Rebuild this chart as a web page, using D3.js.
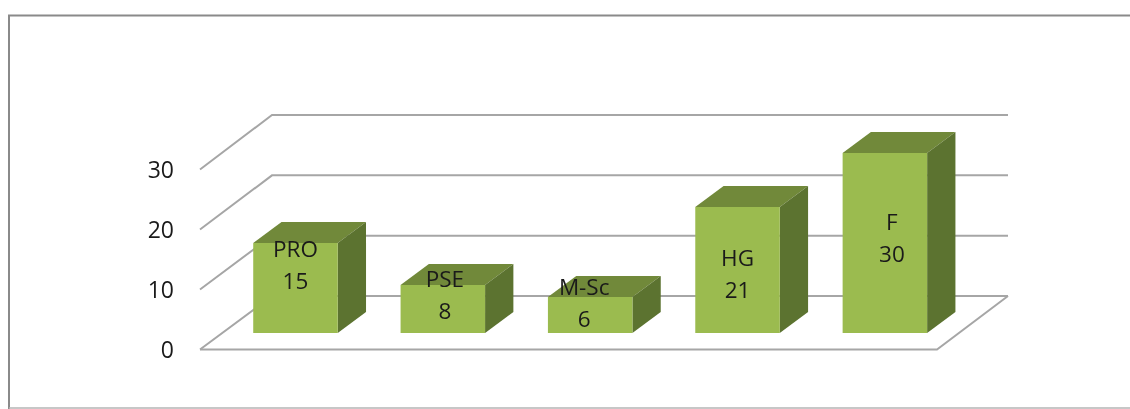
<!DOCTYPE html>
<html>
<head>
<meta charset="utf-8">
<script src="https://cdn.jsdelivr.net/npm/d3@7"></script>
<style>
	html, body { margin: 0; padding: 0; background: #fff; }
	svg { display: block; filter: blur(0.4px); }
	text { font-family: "Open Sans", sans-serif; fill: #1a1a1a; }
</style>
</head>
<body>
<svg id="viz-svg" width="1130" height="409"></svg>
<script>
const categories = ['PRO', 'PSE', 'M-Sc', 'HG', 'F'];
const values = [15, 8, 6, 21, 30];
const tickValues = [0, 10, 20, 30];

// labels were dragged around by hand in the original, so shift each one from its bar
const labelDx = [0, 2, -6, 0, 7];
const labelDy = [14, 2, -2, 59, 77];

const svg = d3.select("#viz-svg");

const depthX = 28.3;
const depthY = -21;
const lineGap = 32;

const frontColor = "#9bbb4f";
const topColor = "#71893a";
const sideColor = "#5c7330";
const gridColor = "#a6a6a6";

const scaleX = d3.scaleBand()
	.domain(categories)
	.range([221.8, 958.55])
	.paddingInner(0.4265)
	.paddingOuter(0.21325);

const scaleBar = d3.scaleLinear().domain([0, 30]).range([333, 153]);
const scaleFront = d3.scaleLinear().domain([0, 30]).range([349.5, 169.5]);
const scaleBack = d3.scaleLinear().domain([0, 30]).range([296, 115]);

const floorLeft = 200, floorRight = 937, wallLeft = 272, wallRight = 1008;

// outer frame, only three sides show in the source
svg.append("path")
	.attr("d", "M9,409V15.5H1130")
	.attr("fill", "none")
	.attr("stroke", "#8a8a8a")
	.attr("stroke-width", 2);
svg.append("line")
	.attr("x1", 9).attr("x2", 1130)
	.attr("y1", 408).attr("y2", 408)
	.attr("stroke", "#b5b5b5")
	.attr("stroke-width", 1.5);

const grid = svg.append("g")
	.attr("fill", "none")
	.attr("stroke", gridColor)
	.attr("stroke-width", 2);

// back wall + side wall lines
grid.selectAll(".grid-line")
	.data(tickValues)
	.join("path")
	.attr("class", "grid-line")
	.attr("d", d => "M" + floorLeft + "," + scaleFront(d) + "L" + wallLeft + "," + scaleBack(d) + "H" + wallRight);

// floor
grid.append("path")
	.attr("d", "M" + floorLeft + "," + scaleFront(0) + "H" + floorRight + "L" + wallRight + "," + scaleBack(0));

const axis = svg.append("g")
	.attr("transform", "translate(180,0.7)")
	.call(d3.axisLeft(scaleFront).tickValues(tickValues).tickSize(0).tickPadding(6));
axis.select(".domain").remove();
axis.selectAll("text")
	.style("font-family", '"Open Sans", sans-serif')
	.style("font-size", "23px")
	.attr("fill", "#1a1a1a");

const bars = svg.selectAll(".bar")
	.data(categories.map((c, i) => ({ name: c, value: values[i], i: i })))
	.join("g")
	.attr("class", "bar");

bars.append("path")
	.attr("fill", topColor)
	.attr("d", d => {
		const x = scaleX(d.name), y = scaleBar(d.value), w = scaleX.bandwidth();
		return "M" + x + "," + y + "l" + depthX + "," + depthY + "h" + w + "l" + (-depthX) + "," + (-depthY) + "Z";
	});

bars.append("path")
	.attr("fill", sideColor)
	.attr("d", d => {
		const x = scaleX(d.name) + scaleX.bandwidth(), y = scaleBar(d.value), h = scaleBar(0) - y;
		return "M" + x + "," + y + "l" + depthX + "," + depthY + "v" + h + "l" + (-depthX) + "," + (-depthY) + "Z";
	});

bars.append("rect")
	.attr("fill", frontColor)
	.attr("x", d => scaleX(d.name))
	.attr("y", d => scaleBar(d.value))
	.attr("width", scaleX.bandwidth())
	.attr("height", d => scaleBar(0) - scaleBar(d.value));

const labels = bars.append("text")
	.attr("text-anchor", "middle")
	.attr("font-size", 22.5)
	.attr("transform", d => "translate(" + (scaleX(d.name) + scaleX.bandwidth() / 2 + labelDx[d.i]) + "," + (scaleBar(d.value) + labelDy[d.i]) + ")");

labels.append("tspan").attr("x", 0).attr("y", 0).text(d => d.name);
labels.append("tspan").attr("x", 0).attr("y", lineGap).text(d => d.value);
</script>
</body>
</html>
